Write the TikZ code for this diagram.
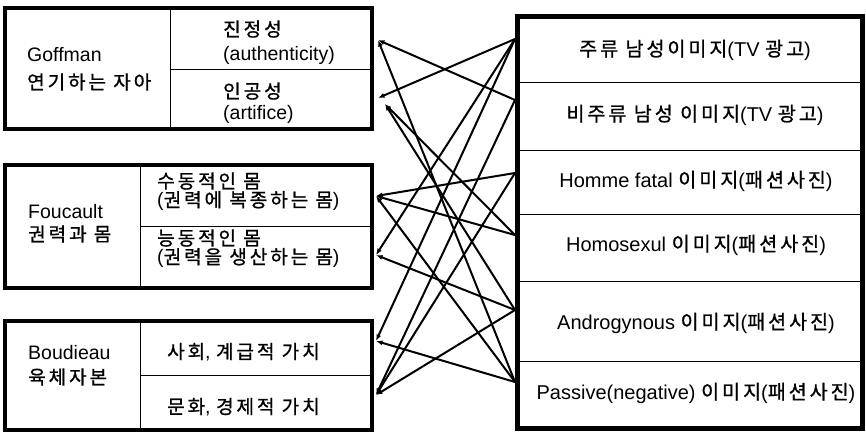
\documentclass[tikz,border=0pt]{standalone}
\usepackage{fontspec}
\setmainfont{Liberation Sans}
\newfontfamily\kr{Noto Sans CJK KR}[Scale=0.98, LetterSpace=15, FakeBold=0.9]
\usetikzlibrary{arrows.meta}
\begin{document}
\begin{tikzpicture}[x=1pt,y=-1pt]
\tikzset{
  thickbox/.style={line width=4pt},
  rightbox/.style={line width=5pt},
  divider/.style={line width=1pt},
  lbl/.style={inner sep=0pt, anchor=west, font=\fontsize{19.5}{22}\selectfont},
  rlbl/.style={inner sep=0pt, anchor=center, font=\fontsize{20}{23}\selectfont},
  conn/.style={line width=2pt, -{Latex[length=6.5pt,width=5pt]}}
}
\useasboundingbox (0,0) rectangle (866,434);
% left boxes
\draw[thickbox] (5,8) rectangle (372,129);
\draw[divider] (170,8) -- (170,129);
\draw[divider] (170,69) -- (372,69);
\draw[thickbox] (5,165) rectangle (372,288);
\draw[divider] (140,165) -- (140,288);
\draw[divider] (140,226) -- (372,226);
\draw[thickbox] (5,321) rectangle (372,430);
\draw[divider] (140,321) -- (140,430);
\draw[divider] (140,375) -- (372,375);
% right box
\draw[rightbox] (517,16) rectangle (862,428);
\foreach \yy in {82,150,214,281,361} \draw[divider] (517,\yy) -- (862,\yy);
% left texts
\node[lbl] (g1) at (27,55) {Goffman};
\node[lbl] (g2) at (27,82) {\kr 연기하는 자아};
\node[lbl] (g3) at (223,29) {\kr 진정성};
\node[lbl] (g4) at (223,55) {(authenticity)};
\node[lbl] (g5) at (223,91) {\kr 인공성};
\node[lbl] (g6) at (223,114) {(artifice)};
\node[lbl] (f1) at (28,212) {Foucault};
\node[lbl] (f2) at (28,234) {\kr 권력과 몸};
\node[lbl] (f3) at (157,181) {\kr 수동적인 몸};
\node[lbl] (f4) at (157,201) {({\kr 권력에 복종하는 몸})};
\node[lbl] (f5) at (157,238) {\kr 능동적인 몸};
\node[lbl] (f6) at (157,258) {({\kr 권력을 생산하는 몸})};
\node[lbl] (b1) at (28,353) {Boudieau};
\node[lbl] (b2) at (28,377) {\kr 육체자본};
\node[lbl] (b3) at (167,352) {{\kr 사회}, {\kr 계급적 가치}};
\node[lbl] (b4) at (167,407) {{\kr 문화}, {\kr 경제적 가치}};
% right texts
\node[rlbl] (r1) at (695,50) {{\kr 주류 남성이미지}(TV {\kr 광고})};
\node[rlbl] (r2) at (695,115) {{\kr 비주류 남성 이미지}(TV {\kr 광고})};
\node[rlbl] (r3) at (696,181) {Homme fatal {\kr 이미지}({\kr 패션사진})};
\node[rlbl] (r4) at (696,245) {Homosexul {\kr 이미지}({\kr 패션사진})};
\node[rlbl] (r5) at (696,323) {Androgynous {\kr 이미지}({\kr 패션사진})};
\node[rlbl] (r6) at (696,393) {Passive(negative) {\kr 이미지}({\kr 패션사진})};
% ports
\coordinate (p1) at (515,39);
\coordinate (p2) at (515,100);
\coordinate (p3) at (515,173);
\coordinate (p4) at (515,235);
\coordinate (p5) at (515,310);
\coordinate (p6) at (515,382);
\coordinate (qa) at (378,40);
\coordinate (qb) at (378,98);
\coordinate (qc) at (385,104);
\coordinate (qd) at (376,196);
\coordinate (qe) at (376,255);
\coordinate (qf) at (376,341);
\coordinate (qg) at (376,395);
% connectors
\draw[conn] (p1) -- (qb);
\draw[conn] (p1) -- (qe);
\draw[conn] (p1) -- (qf);
\draw[conn] (p2) -- (qa);
\draw[conn] (p2) -- (qg);
\draw[conn] (p3) -- (qd);
\draw[conn] (p3) -- (qg);
\draw[conn] (p4) -- (qd);
\draw[conn] (p4) -- (qc);
\draw[conn] (p5) -- (qe);
\draw[conn] (p5) -- (qg);
\draw[conn] (p5) -- (qc);
\draw[conn] (p6) -- (qf);
\draw[conn] (p6) -- (qa);
\draw[conn] (p6) -- (qd);
\end{tikzpicture}
\end{document}
